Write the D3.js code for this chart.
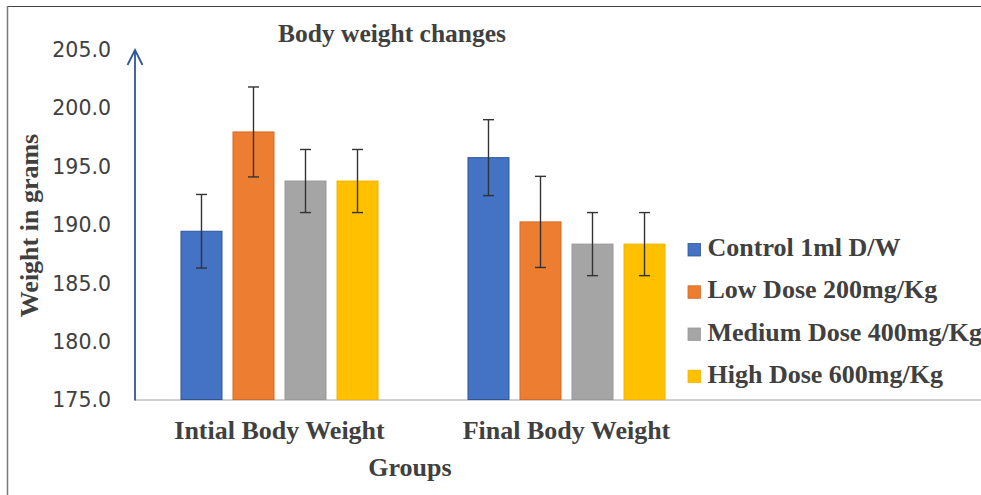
<!DOCTYPE html>
<html>
<head>
<meta charset="utf-8">
<script src="https://cdn.jsdelivr.net/npm/d3@7"></script>
<style>
  html, body { margin: 0; padding: 0; background: #fff; }
  svg { display: block; }
</style>
</head>
<body>
<svg id="chart" width="981" height="495"></svg>
<script>
// ---- data ----
const categories = ["Intial Body Weight", "Final Body Weight"];
const seriesNames = ["Control 1ml D/W", "Low Dose 200mg/Kg", "Medium Dose 400mg/Kg", "High Dose 600mg/Kg"];
const initialValues = [189.4, 197.9, 193.7, 193.7];
const finalValues = [195.7, 190.2, 188.3, 188.3];
const initialErrors = [3.15, 3.85, 2.7, 2.7];
const finalErrors = [3.25, 3.9, 2.7, 2.7];
const yTicks = [175, 180, 185, 190, 195, 200, 205];
const chartTitle = "Body weight changes";
const yTitle = "Weight in grams";
const xTitle = "Groups";

// ---- style ----
const colors = ["#4472C4", "#ED7D31", "#A5A5A5", "#FFC000"];
const strokes = ["#2F5597", "#D46A26", "#999999", "#F2B600"];
const textColor = "#404040";
const serif = "'Liberation Serif', 'Times New Roman', serif";

const svg = d3.select("#chart");
const W = 981, H = 495;

const table = categories.map((c, i) => ({
  category: c,
  values: seriesNames.map((s, j) => ({
    series: s,
    idx: j,
    value: i === 0 ? initialValues[j] : finalValues[j],
    err: i === 0 ? initialErrors[j] : finalErrors[j]
  }))
}));

// frame
svg.append("line").attr("x1", 7).attr("x2", W).attr("y1", 6.5).attr("y2", 6.5)
  .attr("stroke", "#444").attr("stroke-width", 1.2);
svg.append("line").attr("x1", 7.5).attr("x2", 7.5).attr("y1", 6).attr("y2", H)
  .attr("stroke", "#7a7a7a").attr("stroke-width", 1.5);

// scales
const y = d3.scaleLinear().domain([175, 205]).range([399.5, 49]);
const x0 = d3.scaleBand().domain(categories).range([136, 710]).padding(0);
const x1 = d3.scaleBand().domain(seriesNames).range([0, x0.bandwidth()])
  .paddingInner(0.2115).paddingOuter(0.865);

// x baseline
svg.append("line").attr("x1", 135).attr("x2", W).attr("y1", y(175) + 0.5).attr("y2", y(175) + 0.5)
  .attr("stroke", "#d0d0d0").attr("stroke-width", 1.8);

// y tick labels
const yAxis = d3.axisLeft(y).tickValues(yTicks).tickFormat(d3.format(".1f")).tickSize(0).tickPadding(0);
const yg = svg.append("g").attr("transform", "translate(111,0)").call(yAxis);
yg.select(".domain").remove();
yg.selectAll("text")
  .attr("font-family", "'DejaVu Sans', sans-serif")
  .attr("font-size", 20.5)
  .attr("fill", textColor)
  .attr("dy", "0.36em");

// bars
const groups = svg.append("g").selectAll("g").data(table).enter().append("g")
  .attr("transform", d => `translate(${x0(d.category)},0)`);

groups.selectAll("rect").data(d => d.values).enter().append("rect")
  .attr("x", d => x1(d.series))
  .attr("width", x1.bandwidth())
  .attr("y", d => y(d.value))
  .attr("height", d => y(175) - y(d.value))
  .attr("fill", d => colors[d.idx])
  .attr("stroke", d => strokes[d.idx])
  .attr("stroke-width", 1);

// error bars
const capW = 11;
const eb = groups.selectAll("g.err").data(d => d.values).enter().append("g").attr("class", "err")
  .attr("stroke", "#333").attr("stroke-width", 1.4);
eb.append("line")
  .attr("x1", d => x1(d.series) + x1.bandwidth() / 2)
  .attr("x2", d => x1(d.series) + x1.bandwidth() / 2)
  .attr("y1", d => y(d.value + d.err))
  .attr("y2", d => y(d.value - d.err));
eb.append("line")
  .attr("x1", d => x1(d.series) + x1.bandwidth() / 2 - capW / 2)
  .attr("x2", d => x1(d.series) + x1.bandwidth() / 2 + capW / 2)
  .attr("y1", d => y(d.value + d.err))
  .attr("y2", d => y(d.value + d.err));
eb.append("line")
  .attr("x1", d => x1(d.series) + x1.bandwidth() / 2 - capW / 2)
  .attr("x2", d => x1(d.series) + x1.bandwidth() / 2 + capW / 2)
  .attr("y1", d => y(d.value - d.err))
  .attr("y2", d => y(d.value - d.err));

// y axis line with arrow
const axisColor = "#2F5597";
svg.append("line").attr("x1", 135).attr("x2", 135).attr("y1", y(175) + 1).attr("y2", y(205) + 1)
  .attr("stroke", axisColor).attr("stroke-width", 1.8);
svg.append("path")
  .attr("d", `M127.5,${y(205) + 16} L135,${y(205) + 1} L142.5,${y(205) + 16}`)
  .attr("fill", "none").attr("stroke", axisColor).attr("stroke-width", 1.8);

// category labels
svg.append("g").selectAll("text").data(categories).enter().append("text")
  .attr("x", d => x0(d) + x0.bandwidth() / 2)
  .attr("y", 439)
  .attr("text-anchor", "middle")
  .attr("font-family", serif).attr("font-weight", "bold").attr("font-size", 26)
  .attr("fill", textColor)
  .text(d => d);

// axis titles
svg.append("text").attr("x", 410).attr("y", 476)
  .attr("text-anchor", "middle")
  .attr("font-family", serif).attr("font-weight", "bold").attr("font-size", 26)
  .attr("fill", textColor).text(xTitle);

svg.append("text")
  .attr("transform", "translate(38,225.5) rotate(-90)")
  .attr("text-anchor", "middle")
  .attr("font-family", serif).attr("font-weight", "bold").attr("font-size", 26)
  .attr("fill", textColor).text(yTitle);

// title
svg.append("text").attr("x", 392).attr("y", 41.5)
  .attr("text-anchor", "middle")
  .attr("font-family", serif).attr("font-weight", "bold").attr("font-size", 25.5)
  .attr("fill", textColor).text(chartTitle);

// legend
const legendBase = [256, 298.3, 340.5, 382.7];
const lg = svg.append("g").selectAll("g").data(seriesNames).enter().append("g")
  .attr("transform", (d, i) => `translate(688,${legendBase[i]})`);
lg.append("rect").attr("x", 0).attr("y", -12.5).attr("width", 12.5).attr("height", 12.5)
  .attr("fill", (d, i) => colors[i]).attr("stroke", (d, i) => strokes[i]).attr("stroke-width", 0.8);
lg.append("text").attr("x", 19.5).attr("y", 0)
  .attr("font-family", serif).attr("font-weight", "bold").attr("font-size", 26)
  .attr("fill", textColor).text(d => d);
</script>
</body>
</html>
